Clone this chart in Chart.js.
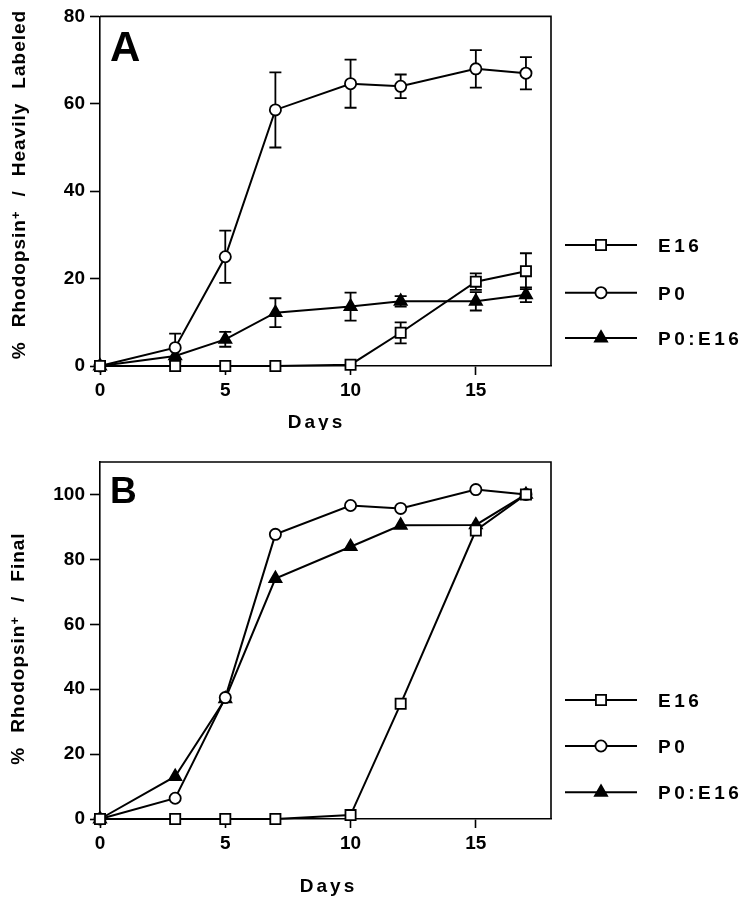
<!DOCTYPE html>
<html><head><meta charset="utf-8">
<script src="https://cdn.jsdelivr.net/npm/chart.js@4.4.1/dist/chart.umd.min.js"></script>
<style>
html,body{margin:0;padding:0;background:#fff;}
#wrap{position:relative;width:740px;height:900px;background:#fff;}
canvas{position:absolute;left:0;}
</style></head><body>
<div id="wrap">
<canvas id="cA" width="740" height="430" style="top:0px"></canvas>
<canvas id="cB" width="740" height="470" style="top:430px"></canvas>
</div>
<script>
// ---------- data ----------
const days = [0, 3, 5, 7, 10, 12, 15, 17];
const seriesNames = ['E16', 'P0', 'P0:E16'];

// Panel A: % Rhodopsin+ / Heavily Labeled (mean and error)
const e16A    = [0, 0, 0, 0, 0.3, 7.6, 19.3, 21.7];
const e16AErr = [0, 0, 0, 0, 0, 2.4, 1.9, 4.1];
const p0A     = [0, 4.2, 25.0, 58.6, 64.6, 64.0, 68.0, 67.0];
const p0AErr  = [0, 3.2, 6.0, 8.6, 5.5, 2.7, 4.3, 3.7];
const mixA    = [0, 2.3, 6.1, 12.2, 13.6, 14.8, 14.8, 16.3];
const mixAErr = [0, 0, 1.7, 3.3, 3.2, 1.2, 2.1, 1.7];

// Panel B: % Rhodopsin+ / Final
const e16B = [0, 0, 0, 0, 1.2, 35.5, 88.9, 100];
const p0B  = [0, 6.4, 37.4, 87.7, 96.6, 95.7, 101.5, 100];
const mixB = [0, 13.1, 37.0, 74.1, 83.9, 90.5, 90.6, 100];

const xTicks = [0, 5, 10, 15];
const yTicksA = [0, 20, 40, 60, 80];
const yTicksB = [0, 20, 40, 60, 80, 100];

// ---------- helpers ----------
const FONT = '"Liberation Sans", Arial, Helvetica, sans-serif';
const pts = (vals) => vals.map((v, i) => ({x: days[i], y: v}));

const styles = [
  {pointStyle: 'rect', pointRadius: 7.2, pointBackgroundColor: '#fff'},
  {pointStyle: 'circle', pointRadius: 5.6, pointBackgroundColor: '#fff'},
  {pointStyle: 'triangle', pointRadius: 7, pointBackgroundColor: '#000'}
];

function mkDataset(i, vals, errs) {
  return Object.assign({
    label: seriesNames[i],
    data: pts(vals),
    errors: errs || null,
    borderColor: '#000',
    borderWidth: 2,
    pointBorderColor: '#000',
    pointBorderWidth: 1.8,
    pointHoverRadius: 0,
    tension: 0,
    clip: false,
    fill: false
  }, styles[i]);
}

function drawSpaced(ctx, text, x, y, spacing) {
  let cx = x;
  for (const ch of text) {
    ctx.fillText(ch, cx, y);
    cx += ctx.measureText(ch).width + spacing;
  }
  return cx - spacing - x;
}
function spacedWidth(ctx, text, spacing) {
  let w = 0;
  for (const ch of text) w += ctx.measureText(ch).width + spacing;
  return w - spacing;
}

function drawMarker(ctx, style, r, x, y, fill) {
  ctx.save();
  ctx.fillStyle = fill; ctx.strokeStyle = '#000'; ctx.lineWidth = 1.8;
  ctx.beginPath();
  if (style === 'rect') {
    const s = Math.SQRT1_2 * r;
    ctx.rect(x - s, y - s, 2 * s, 2 * s);
  } else if (style === 'circle') {
    ctx.arc(x, y, r, 0, Math.PI * 2);
  } else {
    let rad = 0; const T = Math.PI * 2 / 3;
    ctx.moveTo(x + Math.sin(rad) * r, y - Math.cos(rad) * r); rad += T;
    ctx.lineTo(x + Math.sin(rad) * r, y - Math.cos(rad) * r); rad += T;
    ctx.lineTo(x + Math.sin(rad) * r, y - Math.cos(rad) * r);
    ctx.closePath();
  }
  ctx.fill(); ctx.stroke();
  ctx.restore();
}

const errorBarPlugin = {
  id: 'errorBars',
  beforeDatasetsDraw(chart) {
    const ctx = chart.ctx, xs = chart.scales.x, ys = chart.scales.y;
    const a = chart.chartArea;
    ctx.save();
    ctx.strokeStyle = '#000'; ctx.lineWidth = 1.6;
    // frame (top and right)
    ctx.beginPath();
    ctx.moveTo(a.left, a.top); ctx.lineTo(a.right, a.top); ctx.lineTo(a.right, a.bottom);
    ctx.stroke();
    ctx.lineWidth = 1.8;
    chart.data.datasets.forEach(ds => {
      if (!ds.errors) return;
      ds.data.forEach((p, i) => {
        const e = ds.errors[i];
        if (!e) return;
        const x = xs.getPixelForValue(p.x);
        const y1 = ys.getPixelForValue(p.y + e), y2 = ys.getPixelForValue(p.y - e);
        ctx.beginPath();
        ctx.moveTo(x, y1); ctx.lineTo(x, y2);
        ctx.moveTo(x - 6, y1); ctx.lineTo(x + 6, y1);
        ctx.moveTo(x - 6, y2); ctx.lineTo(x + 6, y2);
        ctx.stroke();
      });
    });
    ctx.restore();
  }
};

const textPlugin = {
  id: 'texts',
  afterDraw(chart, args, o) {
    const ctx = chart.ctx, a = chart.chartArea;
    ctx.save();
    ctx.fillStyle = '#000';
    // panel letter
    ctx.font = 'bold ' + o.letterSize + 'px ' + FONT;
    ctx.textBaseline = 'alphabetic'; ctx.textAlign = 'left';
    ctx.fillText(o.letter, a.left + 10, a.top + o.letterBase);
    // x title
    ctx.font = 'bold 19px ' + FONT;
    const dw = spacedWidth(ctx, 'Days', 3);
    drawSpaced(ctx, 'Days', o.xTitleX - dw / 2, o.xTitleBase, 3);
    // y title (rotated, with superscript)
    const segs = o.yTitle;
    const gap = 15, ls = 1;
    let total = 0;
    const main = 'bold 19px ' + FONT, sup = 'bold 13px ' + FONT;
    segs.forEach((s, i) => {
      ctx.font = s.sup ? sup : main;
      s.w = spacedWidth(ctx, s.t, ls);
      total += s.w + (s.sup ? 1 : (i > 0 ? gap : 0));
    });
    ctx.translate(o.yTitleBase, o.yTitleY);
    ctx.rotate(-Math.PI / 2);
    let x = -total / 2;
    segs.forEach((s, i) => {
      if (s.sup) { x += 1; ctx.font = sup; drawSpaced(ctx, s.t, x, -5, ls); }
      else { if (i > 0) x += gap; ctx.font = main; drawSpaced(ctx, s.t, x, 0, ls); }
      x += s.w;
    });
    ctx.setTransform(1, 0, 0, 1, 0, 0);
    // legend
    chart.data.datasets.forEach((ds, i) => {
      const y = o.legendRows[i];
      ctx.strokeStyle = '#000'; ctx.lineWidth = 2;
      ctx.beginPath(); ctx.moveTo(565, y); ctx.lineTo(637, y); ctx.stroke();
      drawMarker(ctx, ds.pointStyle, ds.pointRadius, 601, y, ds.pointBackgroundColor);
      ctx.fillStyle = '#000';
      ctx.font = 'bold 19px ' + FONT;
      drawSpaced(ctx, ds.label, 658, y + 7, 3.5);
    });
    ctx.restore();
  }
};

function makeChart(id, datasets, yMax, yTicks, pad, texts) {
  return new Chart(document.getElementById(id), {
    type: 'line',
    data: {datasets},
    plugins: [errorBarPlugin, textPlugin],
    options: {
      responsive: false,
      animation: false,
      devicePixelRatio: 1,
      events: [],
      layout: {padding: pad},
      plugins: {legend: {display: false}, tooltip: {enabled: false}, texts},
      scales: {
        x: {
          type: 'linear', min: 0, max: 18,
          afterFit: s => { s.height = 40; },
          afterBuildTicks: s => { s.ticks = xTicks.map(v => ({value: v})); },
          ticks: {color: '#000', font: {family: FONT, size: 19, weight: 'bold'}, padding: 4, maxRotation: 0},
          grid: {display: true, drawOnChartArea: false, drawTicks: true, tickLength: 9, tickColor: '#000', tickWidth: 1.6, color: '#000'},
          border: {display: true, color: '#000', width: 1.6}
        },
        y: {
          type: 'linear', min: 0, max: yMax,
          afterFit: s => { s.width = 60; },
          afterBuildTicks: s => { s.ticks = yTicks.map(v => ({value: v})); },
          ticks: {color: '#000', font: {family: FONT, size: 19, weight: 'bold'}, padding: 5},
          grid: {display: true, drawOnChartArea: false, drawTicks: true, tickLength: 10, tickColor: '#000', tickWidth: 1.6, color: '#000'},
          border: {display: true, color: '#000', width: 1.6}
        }
      }
    }
  });
}

makeChart('cA',
  [mkDataset(0, e16A, e16AErr), mkDataset(1, p0A, p0AErr), mkDataset(2, mixA, mixAErr)],
  80, yTicksA,
  {left: 40, right: 189, top: 14, bottom: 24},
  {letter: 'A', letterSize: 42, letterBase: 45, xTitleX: 315, xTitleBase: 428,
   yTitleBase: 25, yTitleY: 185, legendRows: [245, 292.7, 338],
   yTitle: [{t: '%'}, {t: 'Rhodopsin'}, {t: '+', sup: true}, {t: '/'}, {t: 'Heavily'}, {t: 'Labeled'}]});

makeChart('cB',
  [mkDataset(0, e16B), mkDataset(1, p0B), mkDataset(2, mixB)],
  110, yTicksB,
  {left: 40, right: 189, top: 32, bottom: 41},
  {letter: 'B', letterSize: 37, letterBase: 41, xTitleX: 327, xTitleBase: 462,
   yTitleBase: 23.5, yTitleY: 219, legendRows: [270, 316, 362.3],
   yTitle: [{t: '%'}, {t: 'Rhodopsin'}, {t: '+', sup: true}, {t: '/'}, {t: 'Final'}]});
</script>
</body></html>
